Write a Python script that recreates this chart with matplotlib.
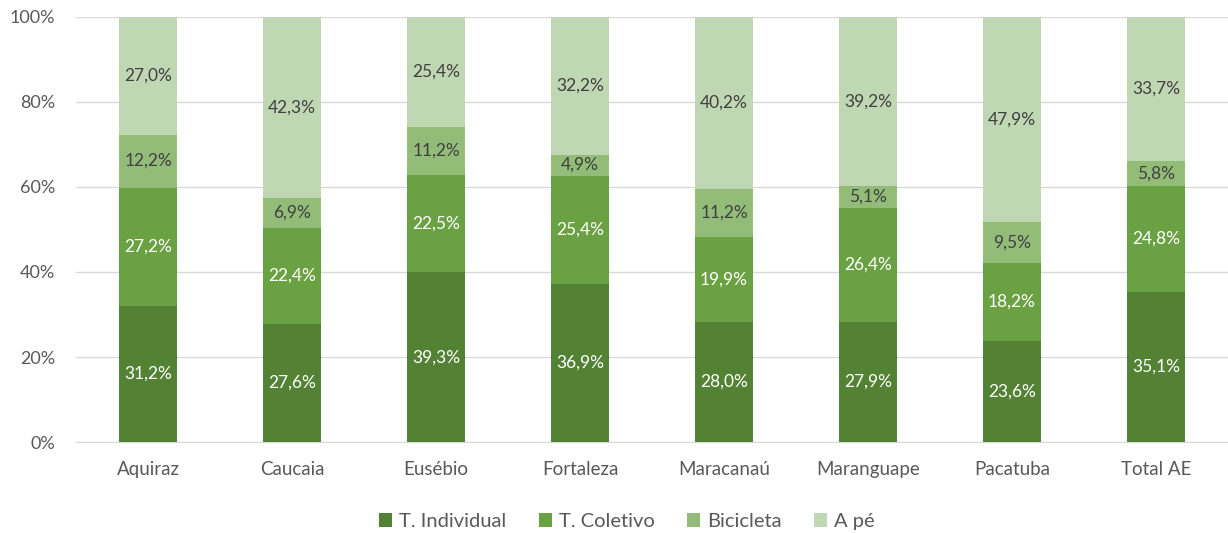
import matplotlib
matplotlib.use("Agg")
import matplotlib.pyplot as plt
import numpy as np

plt.rcParams['font.family'] = ['Lato', 'DejaVu Sans']

categories = ["Aquiraz", "Caucaia", "Eusébio", "Fortaleza", "Maracanaú", "Maranguape", "Pacatuba", "Total AE"]
t_individual = [31.2, 27.6, 39.3, 36.9, 28.0, 27.9, 23.6, 35.1]
t_coletivo = [27.2, 22.4, 22.5, 25.4, 19.9, 26.4, 18.2, 24.8]
bicicleta = [12.2, 6.9, 11.2, 4.9, 11.2, 5.1, 9.5, 5.8]
a_pe = [27.0, 42.3, 25.4, 32.2, 40.2, 39.2, 47.9, 33.7]

series = [("T. Individual", t_individual, "#548235", "white"),
          ("T. Coletivo", t_coletivo, "#6AA142", "white"),
          ("Bicicleta", bicicleta, "#92BC78", "#404040"),
          ("A pé", a_pe, "#BFD8B3", "#404040")]

fig = plt.figure(figsize=(12.28, 5.33), dpi=100)
ax = fig.add_axes([0.062, 0.1707, 0.938, 0.7975])

x = np.arange(len(categories))
totals = np.array(t_individual) + np.array(t_coletivo) + np.array(bicicleta) + np.array(a_pe)
bottom = np.zeros(len(categories))
for name, vals, color, tcolor in series:
    v = np.array(vals)
    h = v / totals * 100
    ax.bar(x, h, 0.4, bottom=bottom, color=color, label=name, zorder=3)
    for xi, b, hi, raw in zip(x, bottom, h, v):
        ax.text(xi, b + hi / 2, f"{raw:.1f}%".replace(".", ","), ha="center", va="center",
                color=tcolor, fontsize=12.5, zorder=4)
    bottom += h

ax.set_xlim(-0.5, len(categories) - 0.5)
ax.set_ylim(0, 100)
ax.set_yticks(np.arange(0, 101, 20))
ax.set_yticklabels([f"{v}%" for v in range(0, 101, 20)])
ax.set_xticks(x)
ax.set_xticklabels(categories)
ax.yaxis.grid(True, color="#D9D9D9", linewidth=1, zorder=0)
for s in ["top", "right", "left"]:
    ax.spines[s].set_visible(False)
ax.spines["bottom"].set_color("#D9D9D9")
ax.tick_params(axis="y", length=0, labelsize=13, colors="#595959", pad=15)
ax.tick_params(axis="x", length=0, labelsize=13.5, colors="#595959", pad=14)

leg = ax.legend(loc="upper center", bbox_to_anchor=(0.478, -0.125), ncol=4, frameon=False,
                fontsize=14.5, handlelength=0.65, handleheight=0.65, columnspacing=1.6, handletextpad=0.35)
for t in leg.get_texts():
    t.set_color("#595959")

fig.savefig("out.png", dpi=100)
